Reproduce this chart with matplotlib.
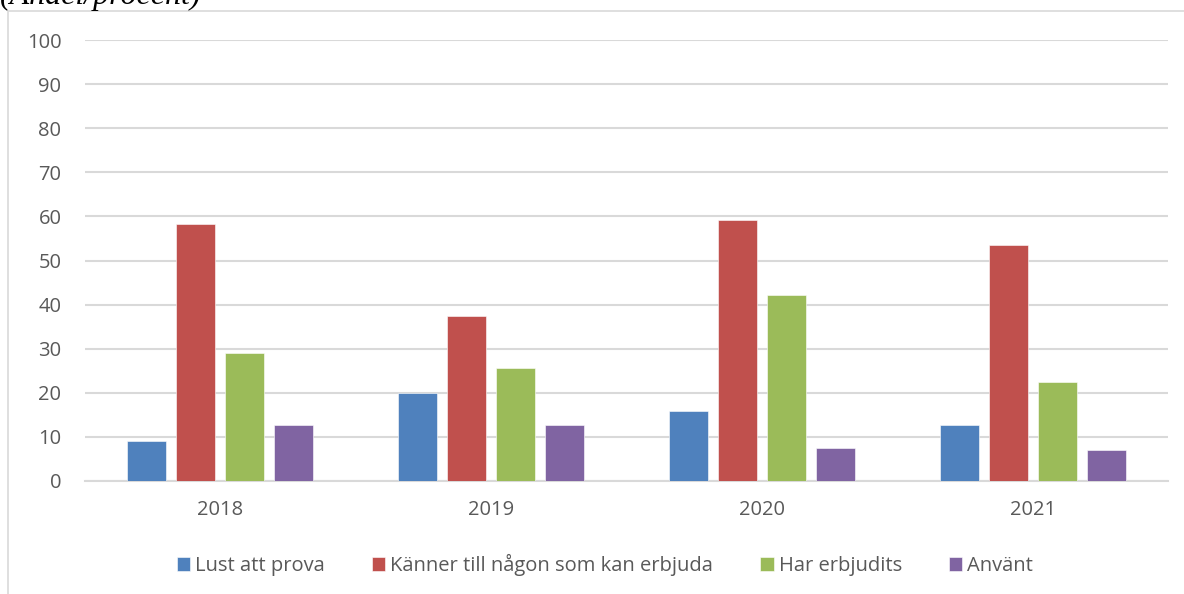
import numpy as np
import matplotlib.pyplot as plt
from matplotlib.patches import Rectangle

# Data
years = ['2018', '2019', '2020', '2021']
lust_att_prova = [9.1, 19.9, 15.8, 12.7]
kanner_till = [58.2, 37.5, 59.2, 53.5]
har_erbjudits = [29.1, 25.7, 42.1, 22.5]
anvant = [12.7, 12.8, 7.5, 7.0]

series = [
    ('Lust att prova', lust_att_prova, '#4F81BD'),
    ('Känner till någon som kan erbjuda', kanner_till, '#C0504D'),
    ('Har erbjudits', har_erbjudits, '#9BBB59'),
    ('Använt', anvant, '#8064A2'),
]

plt.rcParams['font.family'] = ['Open Sans', 'DejaVu Sans']

fig = plt.figure(figsize=(11.84, 5.94), dpi=100)
ax = fig.add_axes([85 / 1184, 1 - 481 / 594, 1083 / 1184, 441 / 594])

# outer chart frame (partly cut by the image edge)
fig.patches.append(Rectangle((8 / 1184, -0.1), 2, 1.1 - 11 / 594,
                             transform=fig.transFigure, fill=False,
                             edgecolor='#D9D9D9', linewidth=1.2))

x = np.arange(len(years))
step = 0.181
width = 0.144
for i, (name, vals, col) in enumerate(series):
    ax.bar(x + (i - 1.5) * step, vals, width, color=col, label=name,
           edgecolor='white', linewidth=0.4, zorder=3)

ax.set_xlim(-0.5, 3.5)
ax.set_ylim(0, 100)
ax.set_yticks(range(0, 101, 10))
ax.set_xticks(x)
ax.set_xticklabels(years)
ax.yaxis.grid(True, color='#D9D9D9', linewidth=1.5, zorder=0)
ax.set_axisbelow(True)
for s in ['top', 'right', 'left']:
    ax.spines[s].set_visible(False)
ax.spines['bottom'].set_color('#D9D9D9')
ax.spines['bottom'].set_linewidth(1.5)
ax.tick_params(axis='both', length=0, colors='#595959', labelsize=14.5)
ax.tick_params(axis='y', pad=17)
ax.tick_params(axis='x', pad=14)

ax.legend(loc='center', bbox_to_anchor=(605 / 1184, 1 - 565 / 594),
          bbox_transform=fig.transFigure, ncol=4, frameon=False,
          fontsize=14.5, labelcolor='#595959', handlelength=0.65,
          handleheight=0.65, handletextpad=0.25, columnspacing=2.35)

fig.text(0.0, 1 - 4 / 594, '(Andel/procent)', family='Liberation Serif',
         fontstyle='italic', fontsize=23, va='baseline', ha='left')

fig.savefig('out.png', dpi=100)
